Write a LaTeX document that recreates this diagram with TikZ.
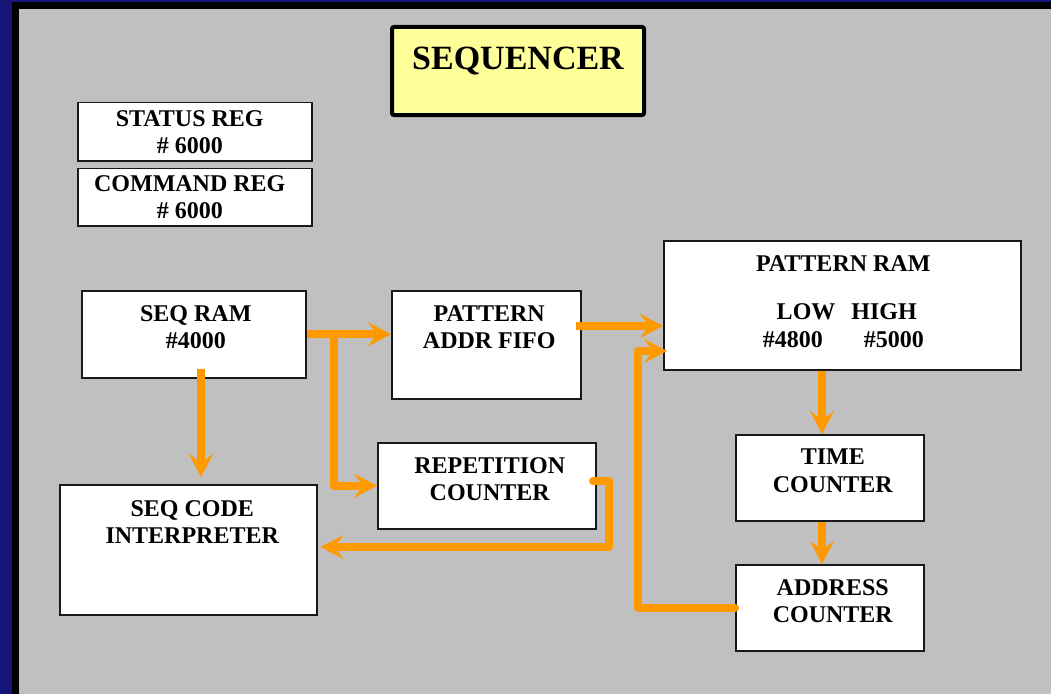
\documentclass[tikz,border=0pt]{standalone}
\usepackage{fontspec}
\setmainfont{Liberation Serif}
\usetikzlibrary{arrows.meta,calc}

\definecolor{panelgray}{HTML}{C0C0C0}
\definecolor{framenavy}{HTML}{16167A}
\definecolor{flowor}{HTML}{FF9900}
\definecolor{titleyellow}{HTML}{FFFF99}

\tikzset{
  box/.style={draw=black!90, line width=1.5bp, fill=white, anchor=north west,
              inner sep=0pt, minimum width=#1},
  lbl/.style={anchor=north, align=center, inner sep=0pt,
              font=\fontsize{24bp}{27.5bp}\selectfont\bfseries},
  flow/.style={draw=flowor, line width=8bp, line join=round},
  flowarrow/.style={flow, -{Stealth[length=23bp,width=24bp,inset=9bp]}},
  roundstart/.style={line cap=round},
}

\begin{document}
\begin{tikzpicture}[x=1bp, y=-1bp]
  \useasboundingbox (0,0) rectangle (1051,694);

  % panel and its dark frame
  \fill[framenavy] (0,0) rectangle (1051,694);
  \fill[black] (12,2) rectangle (1051,694);
  \fill[panelgray] (19,9) rectangle (1051,694);

  % title
  \node[draw=black, line width=4bp, fill=titleyellow, rounded corners=2bp,
        anchor=north west, minimum width=252bp, minimum height=88bp]
        (title) at (390,25) {};
  \node[anchor=north, inner sep=0pt, font=\fontsize{34bp}{40bp}\selectfont\bfseries]
        (titletxt) at ($(title.north)+(0,22)$) {SEQUENCER};

  % registers
  \node[box=234bp, minimum height=58bp] (status) at (77,102) {};
  \node[lbl] (statustxt) at ($(status.north)+(-5,8)$) {STATUS REG\\\# 6000};
  \node[box=234bp, minimum height=57bp] (command) at (77,168) {};
  \node[lbl] (commandtxt) at ($(command.north)+(-5,7)$) {COMMAND REG\\\# 6000};

  % functional blocks
  \node[box=224bp, minimum height=87bp] (seqram) at (81,290) {};
  \node[lbl] (seqramtxt) at ($(seqram.north)+(2,15)$) {SEQ RAM\\\#4000};

  \node[box=189bp, minimum height=108bp] (fifo) at (391,290) {};
  \node[lbl] (fifotxt) at ($(fifo.north)+(3,15)$) {PATTERN\\ADDR FIFO};

  \node[box=218bp, minimum height=86bp] (rep) at (377,442) {};
  \node[lbl] (reptxt) at ($(rep.north)+(3,15)$) {REPETITION\\COUNTER};

  \node[box=257bp, minimum height=130bp] (interp) at (59,484) {};
  \node[lbl] (interptxt) at ($(interp.north)+(4,16)$) {SEQ CODE\\INTERPRETER};

  \node[box=357bp, minimum height=129bp] (pram) at (663,240) {};
  \node[lbl] (pramtxt) at ($(pram.north)+(1,15)$)
        {PATTERN RAM\\[21bp]\hspace*{7bp}LOW\hspace{16bp}HIGH\\\#4800\hspace{41bp}\#5000};

  \node[box=188bp, minimum height=86bp] (time) at (735,434) {};
  \node[lbl] (timetxt) at ($(time.north)+(3,15)$) {TIME\\COUNTER};

  \node[box=188bp, minimum height=86bp] (addr) at (735,564) {};
  \node[lbl] (addrtxt) at ($(addr.north)+(3,15)$) {ADDRESS\\COUNTER};

  % bend and tap points of the data paths
  \coordinate (tap)   at (334,333);
  \coordinate (fout)  at (576,326);
  \coordinate (sdown) at (201,369);
  \coordinate (rout)  at (593,481);
  \coordinate (rbend) at (609,547);
  \coordinate (aret)  at (638,351);
  \coordinate (tcol)  at (822,0);

  % data paths
  \draw[flowarrow] (seqram.east) -- (seqram.east -| fifo.west);
  \draw[flowarrow] (tap) |- (rep.west);
  \draw[flowarrow] (fout) -- (fout -| pram.west);
  \draw[flowarrow, shorten >=7bp] (sdown) -- (sdown |- interp.north);
  \draw[flowarrow, roundstart, shorten >=3bp] (rout) -| (rbend) -- (rbend -| interp.east);
  \draw[flowarrow, roundstart, shorten >=-4bp] (addr.west) -| (aret) -- (aret -| pram.west);
  \draw[flowarrow] (tcol |- pram.south) -- (tcol |- time.north);
  \draw[flowarrow] (tcol |- time.south) -- (tcol |- addr.north);
\end{tikzpicture}
\end{document}
